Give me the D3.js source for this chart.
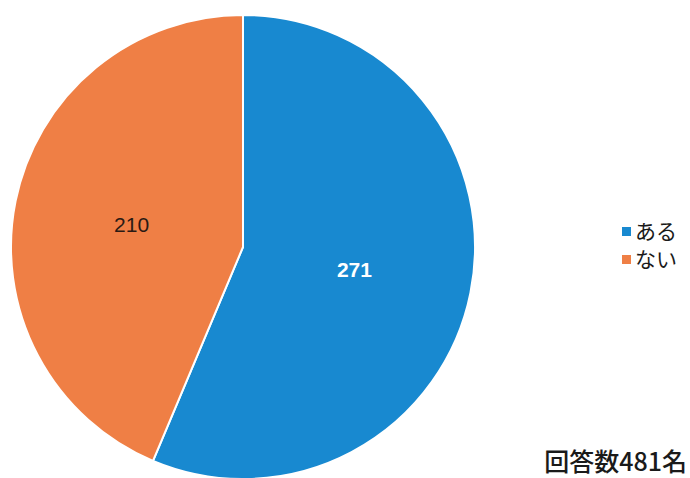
<!DOCTYPE html>
<html>
<head>
<meta charset="utf-8">
<script src="https://cdn.jsdelivr.net/npm/d3@7"></script>
<style>
  html, body { margin: 0; padding: 0; background: #fff; }
  svg { display: block; }
</style>
</head>
<body>
<svg id="chart" width="690" height="478"></svg>
<script>
// Survey answers: "ある" (yes) / "ない" (no)
const categories = ["ある", "ない"];
const values = [271, 210];
const colors = ["#1889d0", "#ef7f45"];
const totalLabel = "回答数481名";

const svg = d3.select("#chart");
const cx = 243, cy = 247, r = 232;

const pie = d3.pie().sort(null).value(d => d.value);
const arcs = pie(categories.map((c, i) => ({ cat: c, value: values[i] })));
const color = d3.scaleOrdinal().domain(categories).range(colors);

const arc = d3.arc().innerRadius(0).outerRadius(r);
const labelArc = d3.arc().innerRadius(r * 0.49).outerRadius(r * 0.49);

const g = svg.append("g").attr("transform", `translate(${cx},${cy})`);

g.selectAll("path.slice")
  .data(arcs)
  .join("path")
  .attr("class", "slice")
  .attr("d", arc)
  .attr("fill", d => color(d.data.cat))
  .attr("stroke", "#ffffff")
  .attr("stroke-width", 2);

g.selectAll("text.val")
  .data(arcs)
  .join("text")
  .attr("class", "val")
  .attr("transform", d => `translate(${labelArc.centroid(d)})`)
  .attr("text-anchor", "middle")
  .attr("dy", "0.36em")
  .attr("font-family", "'Liberation Sans', Arial, sans-serif")
  .attr("font-size", 21)
  .attr("font-weight", (d, i) => i === 0 ? "bold" : "normal")
  .attr("fill", (d, i) => i === 0 ? "#ffffff" : "#2a1a14")
  .text(d => d.data.value);

// Legend
const legend = svg.append("g").attr("transform", "translate(622,231)");
const item = legend.selectAll("g")
  .data(categories)
  .join("g")
  .attr("transform", (d, i) => `translate(0,${i * 28})`);
item.append("rect")
  .attr("x", 0).attr("y", -4)
  .attr("width", 9).attr("height", 9)
  .attr("fill", d => color(d));
item.append("text")
  .attr("x", 13).attr("y", 0)
  .attr("dy", "0.36em")
  .attr("font-family", "'Noto Sans CJK JP', sans-serif")
  .attr("font-size", 21)
  .attr("fill", "#1a1a1a")
  .text(d => d);

// Total respondents
svg.append("text")
  .attr("x", 687).attr("y", 462)
  .attr("dy", "0.35em")
  .attr("text-anchor", "end")
  .attr("font-family", "'Noto Sans CJK JP', sans-serif")
  .attr("font-size", 25)
  .attr("font-weight", 500)
  .attr("fill", "#1a1a1a")
  .text(totalLabel);
</script>
</body>
</html>
